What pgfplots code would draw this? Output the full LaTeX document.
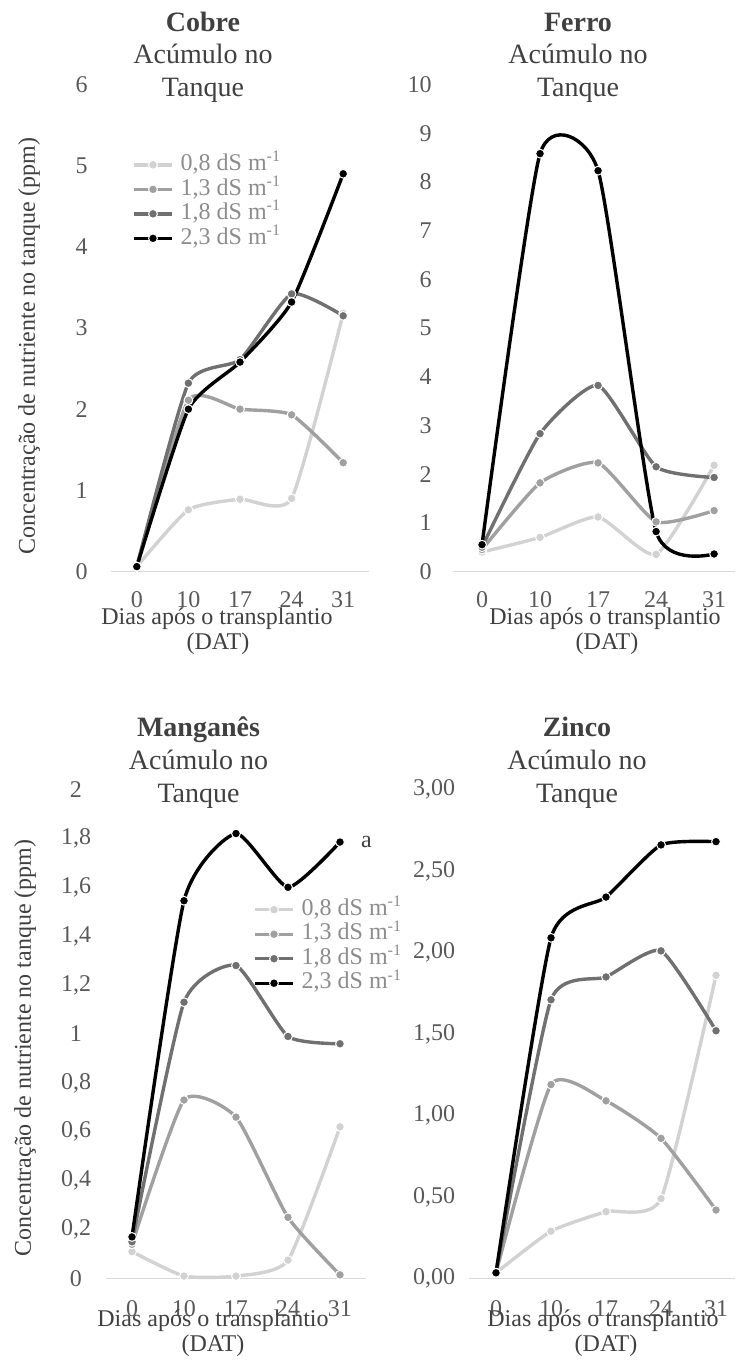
\documentclass[border=0pt]{standalone}
\usepackage{fontspec}
\setmainfont{Liberation Serif}
\usepackage{pgfplots}
\pgfplotsset{compat=1.18}
\definecolor{cA}{RGB}{210,210,210}
\definecolor{cB}{RGB}{160,160,160}
\definecolor{cC}{RGB}{112,112,112}
\definecolor{cD}{RGB}{0,0,0}
\definecolor{axg}{RGB}{217,217,217}
\definecolor{tickc}{RGB}{89,89,89}
\definecolor{titc}{RGB}{64,64,64}
\definecolor{legc}{RGB}{140,140,140}
\pgfplotsset{
  panel/.style={
    scale only axis, clip=false,
    axis lines*=left,
    y axis line style={draw=none},
    x axis line style={draw=axg, line width=0.6pt},
    major tick length=0pt,
    xmin=-0.5, ymin=0,
    xtick={0,1,2,3,4}, xticklabels={0,10,17,24,31},
    tick label style={font=\fontsize{12}{14}\selectfont, text=tickc},
    xticklabel style={anchor=base, inner sep=0pt},
    legend image code/.code={\draw[mark repeat=2,mark phase=2,##1] plot coordinates {(0pt,0pt) (9.5pt,0pt) (19pt,0pt)}; \path (22.5pt,0pt);},
  },
  ser/.style={smooth, tension=0.33, line width=1.7pt, color=#1, mark=*, mark size=2.2pt,
    mark options={fill=#1, draw=white, line width=0.5pt}},
  leg/.style={legend cell align=left,
    legend style={draw=none, fill=none, anchor=north west,
      font=\fontsize{12}{12}\selectfont, text=legc, inner sep=0pt, row sep=0pt,
      nodes={inner sep=0pt, text height=9pt, text depth=3.25pt}}},
}
\begin{document}
\begin{tikzpicture}
\useasboundingbox (0,0) rectangle (367.5pt,682pt);
% ---------- Cobre ----------
\begin{axis}[panel, leg, at={(55.5pt,396.25pt)}, anchor=south west,
  width=129pt, height=243.5pt, xmax=4.5, ymax=6,
  ytick={0,1,2,3,4,5,6}, yticklabels={0,1,2,3,4,5,6},
  yticklabel style={anchor=east, inner sep=0pt, xshift=-11.5pt},
  xticklabel style={yshift=-18.25pt},
  legend style={at={(axis description cs:0.081,0.861)}}]
\addplot[ser=cA] coordinates {(0,0.06) (1,0.76) (2,0.89) (3,0.90) (4,3.18)};
\addlegendentry{0,8 dS m\textsuperscript{-1}}
\addplot[ser=cB] coordinates {(0,0.06) (1,2.11) (2,2.00) (3,1.93) (4,1.34)};
\addlegendentry{1,3 dS m\textsuperscript{-1}}
\addplot[ser=cC] coordinates {(0,0.06) (1,2.32) (2,2.61) (3,3.42) (4,3.15)};
\addlegendentry{1,8 dS m\textsuperscript{-1}}
\addplot[ser=cD] coordinates {(0,0.06) (1,2.00) (2,2.58) (3,3.32) (4,4.90)};
\addlegendentry{2,3 dS m\textsuperscript{-1}}
\end{axis}
% ---------- Ferro ----------
\begin{axis}[panel, at={(226.5pt,396.25pt)}, anchor=south west,
  width=141pt, height=243.5pt, xmax=4.36, ymax=10,
  ytick={0,1,2,3,4,5,6,7,8,9,10}, yticklabels={0,1,2,3,4,5,6,7,8,9,10},
  yticklabel style={anchor=east, inner sep=0pt, xshift=-10.5pt},
  xticklabel style={yshift=-18.25pt}]
\addplot[ser=cA] coordinates {(0,0.40) (1,0.70) (2,1.12) (3,0.35) (4,2.18)};
\addplot[ser=cB] coordinates {(0,0.45) (1,1.82) (2,2.23) (3,1.02) (4,1.25)};
\addplot[ser=cC] coordinates {(0,0.50) (1,2.83) (2,3.82) (3,2.15) (4,1.93)};
\addplot[ser=cD] coordinates {(0,0.55) (1,8.58) (2,8.23) (3,0.82) (4,0.36)};
\end{axis}
% ---------- Manganes ----------
\begin{axis}[panel, leg, at={(53pt,42.75pt)}, anchor=south west,
  width=130pt, height=244.5pt, xmax=4.5, ymax=2,
  ytick={0,0.2,0.4,0.6,0.8,1,1.2,1.4,1.6,1.8,2},
  yticklabels={0,{0,2},{0,4},{0,6},{0,8},1,{1,2},{1,4},{1,6},{1,8},2},
  yticklabel style={anchor=center, inner sep=0pt, xshift=-15pt},
  xticklabel style={yshift=-19pt},
  legend style={at={(axis description cs:0.565,0.780)}}]
\addplot[ser=cA] coordinates {(0,0.11) (1,0.01) (2,0.01) (3,0.075) (4,0.62)};
\addlegendentry{0,8 dS m\textsuperscript{-1}}
\addplot[ser=cB] coordinates {(0,0.14) (1,0.73) (2,0.66) (3,0.25) (4,0.015)};
\addlegendentry{1,3 dS m\textsuperscript{-1}}
\addplot[ser=cC] coordinates {(0,0.15) (1,1.13) (2,1.28) (3,0.99) (4,0.96)};
\addlegendentry{1,8 dS m\textsuperscript{-1}}
\addplot[ser=cD] coordinates {(0,0.17) (1,1.545) (2,1.82) (3,1.60) (4,1.785)};
\addlegendentry{2,3 dS m\textsuperscript{-1}}
\node[font=\fontsize{12}{14}\selectfont, text=titc, anchor=west] at (axis cs:4,1.785) [xshift=7pt] {a};
\end{axis}
% ---------- Zinco ----------
\begin{axis}[panel, at={(234.25pt,42.75pt)}, anchor=south west,
  width=133.25pt, height=244.5pt, xmax=4.345, ymax=3,
  ytick={0,0.5,1,1.5,2,2.5,3},
  yticklabels={{0,00},{0,50},{1,00},{1,50},{2,00},{2,50},{3,00}},
  yticklabel style={anchor=east, inner sep=0pt, xshift=-6.5pt},
  xticklabel style={yshift=-19pt}]
\addplot[ser=cA] coordinates {(0,0.035) (1,0.29) (2,0.41) (3,0.49) (4,1.86)};
\addplot[ser=cB] coordinates {(0,0.035) (1,1.19) (2,1.09) (3,0.86) (4,0.42)};
\addplot[ser=cC] coordinates {(0,0.035) (1,1.71) (2,1.85) (3,2.01) (4,1.52)};
\addplot[ser=cD] coordinates {(0,0.035) (1,2.09) (2,2.34) (3,2.66) (4,2.68)};
\end{axis}
% ---------- titles ----------
\begin{scope}[every node/.style={anchor=base, text=titc, inner sep=0pt, font=\fontsize{14}{16}\selectfont}]
\node at (101.5pt,666pt) {\bfseries Cobre};
\node at (101.5pt,650pt) {Acúmulo no};
\node at (101.5pt,633.5pt) {Tanque};
\node at (289pt,666pt) {\bfseries Ferro};
\node at (289pt,650pt) {Acúmulo no};
\node at (289pt,633.5pt) {Tanque};
\node at (99.25pt,313.5pt) {\bfseries Manganês};
\node at (99.25pt,297pt) {Acúmulo no};
\node at (99.25pt,280.5pt) {Tanque};
\node at (288.5pt,313.5pt) {\bfseries Zinco};
\node at (288.5pt,297pt) {Acúmulo no};
\node at (288.5pt,280.5pt) {Tanque};
\end{scope}
\begin{scope}[every node/.style={anchor=base, text=titc, inner sep=0pt, font=\fontsize{12}{14}\selectfont}]
\node at (108.5pt,369.5pt) {Dias após o transplantio};
\node at (109pt,357pt) {(DAT)};
\node at (302.5pt,369.5pt) {Dias após o transplantio};
\node at (303.5pt,357pt) {(DAT)};
\node at (106.5pt,18.5pt) {Dias após o transplantio};
\node at (106.5pt,6pt) {(DAT)};
\node at (301.5pt,18.5pt) {Dias após o transplantio};
\node at (303pt,6pt) {(DAT)};
\end{scope}
\node[rotate=90, text=titc, inner sep=0pt, font=\fontsize{12}{14}\selectfont] at (14.5pt,509pt) {Concentração de nutriente no tanque (ppm)};
\node[rotate=90, text=titc, inner sep=0pt, font=\fontsize{12}{14}\selectfont] at (12.5pt,158pt) {Concentração de nutriente no tanque (ppm)};
\end{tikzpicture}
\end{document}
